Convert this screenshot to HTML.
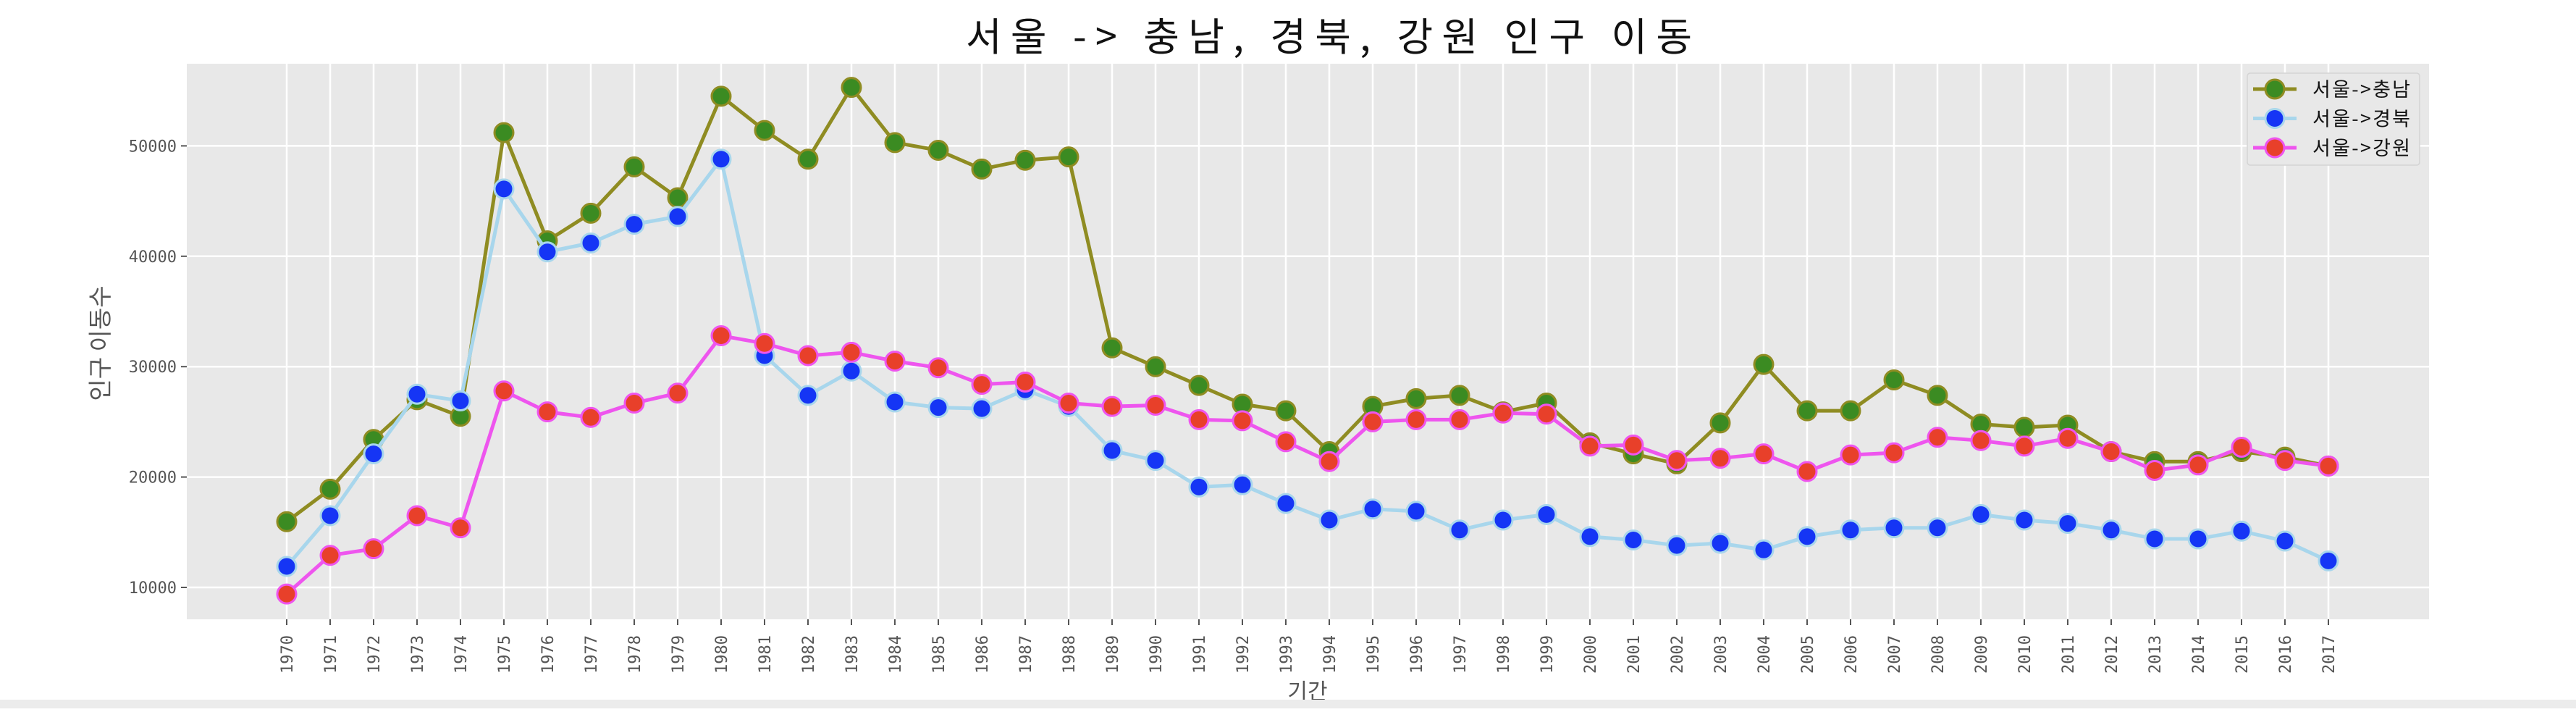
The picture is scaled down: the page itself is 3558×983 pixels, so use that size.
<!DOCTYPE html>
<html><head><meta charset="utf-8"><style>
html,body{margin:0;padding:0;background:#fff;}
body{width:3558px;height:978px;overflow:hidden;position:relative;font-family:"Liberation Sans","Noto Sans CJK KR",sans-serif;}
svg text{font-family:"DejaVu Sans Mono","Liberation Mono","Noto Sans CJK KR",monospace;}
</style></head><body>
<svg id="chart" width="3558" height="978" xmlns="http://www.w3.org/2000/svg">
<rect x="258" y="88" width="3097" height="767" fill="#e8e8e8"/>
<g id="grid"></g><g id="ticks"></g><g id="series"></g>
<text x="1334" y="70" textLength="1003" lengthAdjust="spacing" font-size="54" fill="#111" style="font-family:'Noto Sans CJK KR',sans-serif">서울 -&gt; 충남, 경북, 강원 인구 이동</text>
<text transform="translate(150,474) rotate(-90)" text-anchor="middle" font-size="33" fill="#555" style="font-family:'Noto Sans CJK KR',sans-serif">인구 이동수</text>
<text x="1806" y="965" text-anchor="middle" font-size="30" fill="#555" style="font-family:'Noto Sans CJK KR',sans-serif">기간</text>
<g id="legend">
<rect x="3104" y="101" width="238" height="127" rx="4" fill="#e8e8e8" stroke="#d4d4d4" stroke-width="1.5"/>
</g>
<rect x="0" y="966" width="3558" height="12" fill="#ececec"/>
</svg>
<script>
const years=[];for(let y=1970;y<=2017;y++)years.push(y);
const yTicks=[10000,20000,30000,40000,50000];
const chungnam=[15954,18900,23400,27000,25500,51200,41400,43900,48100,45300,54500,51400,48800,55300,50300,49600,47900,48700,49000,31700,30000,28300,26600,26000,22300,26400,27100,27400,25900,26700,23100,22100,21200,24900,30200,26000,26000,28800,27400,24800,24500,24700,22300,21400,21400,22300,21800,21000];
const gyeongbuk=[11900,16500,22100,27500,26900,46100,40400,41200,42900,43600,48800,31000,27400,29600,26800,26300,26200,27900,26400,22400,21500,19100,19300,17600,16100,17100,16900,15200,16100,16600,14600,14300,13800,14000,13400,14600,15200,15400,15400,16600,16100,15800,15200,14400,14400,15100,14200,12400];
const gangwon=[9400,12900,13500,16500,15400,27800,25900,25400,26700,27600,32800,32100,31000,31300,30500,29900,28400,28600,26700,26400,26500,25200,25100,23200,21400,25000,25200,25200,25800,25700,22800,22900,21500,21700,22100,20500,22000,22200,23600,23300,22800,23500,22300,20600,21100,22700,21500,21000];
const names=['서울->충남','서울->경북','서울->강원'];
const NS='http://www.w3.org/2000/svg';
function X(i){return 396+i*60;}
function Y(v){return 811-(v-10000)*0.01524;}
function mk(tag,attrs,parent){const e=document.createElementNS(NS,tag);for(const k in attrs)e.setAttribute(k,attrs[k]);parent.appendChild(e);return e;}
const grid=document.getElementById('grid'),ticks=document.getElementById('ticks');
yTicks.forEach(v=>{
 const l=mk('line',{x1:258,x2:3355,y1:Y(v),y2:Y(v),stroke:'#fff','stroke-width':2.5},grid);
 
 
 mk('line',{x1:250,x2:258,y1:Y(v),y2:Y(v),stroke:'#555','stroke-width':2},ticks);
 const t=mk('text',{x:244,y:Y(v)+8,'text-anchor':'end','font-size':22,fill:'#555'},ticks);
 t.textContent=v;
 
 
});
years.forEach((yr,i)=>{
 const l=mk('line',{x1:X(i),x2:X(i),y1:88,y2:855,stroke:'#fff','stroke-width':2.5},grid);
 
 
 mk('line',{x1:X(i),x2:X(i),y1:855,y2:863,stroke:'#555','stroke-width':2},ticks);
 const t=mk('text',{transform:`translate(${X(i)+8},930) rotate(-90)`,'font-size':22,fill:'#555'},ticks);
 t.textContent=yr;
 
 
});
const styles=[{line:'#8f8c22',fill:'#3b8b22',edge:'#8f8c22'},{line:'#a8d6ec',fill:'#1535f5',edge:'#a8d6ec'},{line:'#ee55ee',fill:'#e8402a',edge:'#ee55ee'}];
const seriesData=[chungnam,gyeongbuk,gangwon];
const sg=document.getElementById('series');
const sNames=['series-chungnam','series-gyeongbuk','series-gangwon'];
seriesData.forEach((d,s)=>{
 const g=mk('g',{},sg);
 
 
 mk('polyline',{points:d.map((v,i)=>X(i)+','+Y(v)).join(' '),fill:'none',stroke:styles[s].line,'stroke-width':5,'stroke-linejoin':'round'},g);
 d.forEach((v,i)=>{
  const c=mk('circle',{cx:X(i),cy:Y(v),r:13,fill:styles[s].fill,stroke:styles[s].edge,'stroke-width':3},g);
  
  
 });
});
const lg=document.getElementById('legend');
names.forEach((n,s)=>{
 const y=123+s*40.5;
 const e=mk('g',{},lg);
 
 
 mk('line',{x1:3112,x2:3172,y1:y,y2:y,stroke:styles[s].line,'stroke-width':5},e);
 mk('circle',{cx:3142,cy:y,r:13,fill:styles[s].fill,stroke:styles[s].edge,'stroke-width':3},e);
 const t=mk('text',{x:3194,y:y+10,'font-size':27,fill:'#111',textLength:135,lengthAdjust:'spacing',style:"font-family:'Noto Sans CJK KR',sans-serif"},e);
 t.textContent=n;
});
</script>
</body></html>
